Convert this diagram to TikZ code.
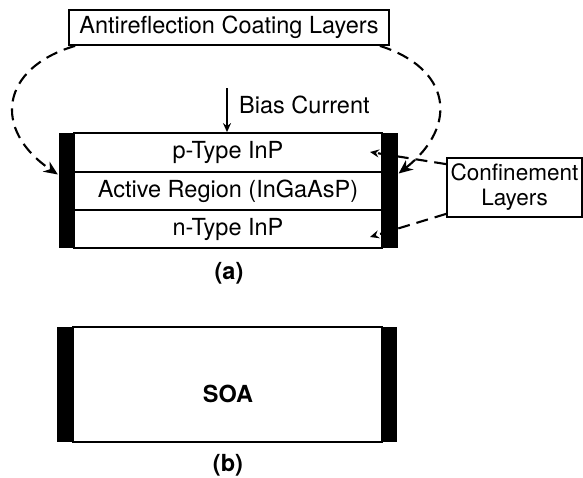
\documentclass[tikz,border=0pt]{standalone}
\usepackage{fontspec}
\setmainfont{TeX Gyre Heros}
\usetikzlibrary{arrows.meta}

\begin{document}
\begin{tikzpicture}[x=1pt,y=-1pt,line width=1.8pt,
  font=\fontsize{23.5}{27}\selectfont,
  lbox/.style={draw,inner sep=0pt},
  layer/.style={draw,minimum width=308pt,inner sep=0pt},
  facet/.style={fill=black,minimum width=15.5pt,minimum height=115pt,inner sep=0pt},
  caption/.style={font=\fontsize{23.5}{27}\selectfont\bfseries},
  coatarrow/.style={line width=2.1pt,dash pattern=on 12pt off 7pt,-{Stealth[length=14pt,width=12pt,inset=4.5pt]}},
  smallarrow/.style={-{Stealth[length=9pt,width=8pt,inset=3pt]}}]
  \useasboundingbox (0,0) rectangle (583,477);

  % (a) layered amplifier
  \node[layer,minimum height=39pt] (ptype) at (228,152.5) {p-Type InP};
  \node[layer,minimum height=38pt] (active) at (228,191) {Active Region (InGaAsP)};
  \node[layer,minimum height=38pt] (ntype) at (228,229) {n-Type InP};
  \node[facet] (lfacet) at (66.5,190.5) {};
  \node[facet] (rfacet) at (390,190.5) {};

  \node[lbox,minimum width=320pt,minimum height=35pt] (coat) at (229,27.5) {Antireflection Coating Layers};
  \node[lbox,minimum width=135pt,minimum height=59pt,align=center,
    font=\fontsize{22.5}{25}\selectfont] (conf) at (514.5,187.5) {Confinement\\Layers};

  \coordinate (biastop) at (227,88);
  \draw[smallarrow] (biastop) -- (biastop |- ptype.north);
  \node[anchor=west] (bias) at (235,105) {Bias Current};

  \draw[coatarrow] ([xshift=7pt]coat.south west) .. controls (0,68) and (-8,130) .. ([yshift=16pt]lfacet.west);
  \draw[coatarrow] ([xshift=-10pt]coat.south east) .. controls (450,68) and (460,125) .. ([yshift=17pt]rfacet.east);

  \coordinate (ptip) at (370,152);
  \coordinate (ntip) at (370,237);
  \draw[smallarrow,line width=2.1pt,dash pattern=on 12pt off 7pt] ([yshift=-7pt]conf.north west) -- (ptip);
  \draw[smallarrow,line width=2.1pt,dash pattern=on 12pt off 7pt] ([yshift=4pt]conf.south west) -- (ntip);

  \node[caption] (capa) at (229,273) {(a)};

  % (b) plain amplifier
  \node[draw,minimum width=309pt,minimum height=115pt,inner sep=0pt] (soa) at (227.5,384.5) {};
  \node[facet,minimum width=16pt] (lfacetb) at (65,384.5) {};
  \node[facet,minimum width=15pt] (rfacetb) at (389.5,384.5) {};
  \node[caption] (soalabel) at (228,394) {SOA};
  \node[caption] (capb) at (228,465) {(b)};
\end{tikzpicture}
\end{document}
